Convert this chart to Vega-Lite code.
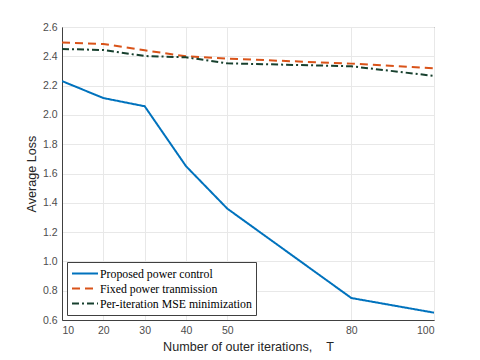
{
  "$schema": "https://vega.github.io/schema/vega-lite/v6.json",
  "autosize": {"type": "none"},
  "width": 372,
  "height": 293,
  "padding": {"left": 62, "top": 27, "right": 46, "bottom": 40},
  "background": "white",
  "config": {
    "view": {"stroke": "#404040", "strokeWidth": 1},
    "axis": {
      "labelFont": "Liberation Sans",
      "labelFontSize": 10.5,
      "labelColor": "#4d4d4d",
      "titleFont": "Liberation Sans",
      "titleFontSize": 12.6,
      "titleFontWeight": "normal",
      "titleColor": "#262626",
      "gridColor": "#e8e8e8",
      "gridWidth": 1,
      "domainColor": "#404040",
      "ticks": false,
      "labelPadding": 5
    },
    "legend": {
      "title": null,
      "orient": "bottom-left",
      "offset": 5,
      "labelFont": "Liberation Serif",
      "labelFontSize": 11.8,
      "labelColor": "#000000",
      "labelLimit": 400,
      "symbolType": "M-1,0H3",
      "symbolSize": 169,
      "symbolStrokeWidth": 2,
      "strokeColor": "#404040",
      "fillColor": "white",
      "padding": 4,
      "rowPadding": 0,
      "labelOffset": 14
    }
  },
  "data": {
    "values": [
      {"T": 10, "loss": 2.231, "method": "Proposed power control"},
      {"T": 20, "loss": 2.115, "method": "Proposed power control"},
      {"T": 30, "loss": 2.059, "method": "Proposed power control"},
      {"T": 40, "loss": 1.65, "method": "Proposed power control"},
      {"T": 50, "loss": 1.36, "method": "Proposed power control"},
      {"T": 80, "loss": 0.75, "method": "Proposed power control"},
      {"T": 100, "loss": 0.65, "method": "Proposed power control"},
      {"T": 10, "loss": 2.495, "method": "Fixed power tranmission"},
      {"T": 20, "loss": 2.484, "method": "Fixed power tranmission"},
      {"T": 30, "loss": 2.441, "method": "Fixed power tranmission"},
      {"T": 40, "loss": 2.4, "method": "Fixed power tranmission"},
      {"T": 50, "loss": 2.384, "method": "Fixed power tranmission"},
      {"T": 80, "loss": 2.35, "method": "Fixed power tranmission"},
      {"T": 100, "loss": 2.318, "method": "Fixed power tranmission"},
      {"T": 10, "loss": 2.45, "method": "Per-iteration MSE minimization"},
      {"T": 20, "loss": 2.443, "method": "Per-iteration MSE minimization"},
      {"T": 30, "loss": 2.402, "method": "Per-iteration MSE minimization"},
      {"T": 40, "loss": 2.393, "method": "Per-iteration MSE minimization"},
      {"T": 50, "loss": 2.352, "method": "Per-iteration MSE minimization"},
      {"T": 80, "loss": 2.332, "method": "Per-iteration MSE minimization"},
      {"T": 100, "loss": 2.266, "method": "Per-iteration MSE minimization"}
    ]
  },
  "mark": {"type": "line", "strokeWidth": 2, "clip": true},
  "encoding": {
    "x": {
      "field": "T",
      "type": "quantitative",
      "scale": {"domain": [10, 100], "nice": false, "zero": false},
      "axis": {"values": [10, 20, 30, 40, 50, 80, 100], "title": "Number of outer iterations,\u00a0\u00a0\u00a0\u00a0T", "titlePadding": 5}
    },
    "y": {
      "field": "loss",
      "type": "quantitative",
      "scale": {"domain": [0.6, 2.6], "nice": false, "zero": false},
      "axis": {"values": [0.6, 0.8, 1, 1.2, 1.4, 1.6, 1.8, 2, 2.2, 2.4, 2.6], "title": "Average Loss", "titlePadding": 4}
    },
    "color": {
      "field": "method",
      "type": "nominal",
      "scale": {
        "domain": ["Proposed power control", "Fixed power tranmission", "Per-iteration MSE minimization"],
        "range": ["#0072BD", "#D95319", "#17402E"]
      },
      "legend": {"title": null}
    },
    "strokeDash": {
      "field": "method",
      "type": "nominal",
      "scale": {
        "domain": ["Proposed power control", "Fixed power tranmission", "Per-iteration MSE minimization"],
        "range": [[1, 0], [8, 5], [7, 3, 2, 3]]
      },
      "legend": {"title": null}
    }
  }
}
